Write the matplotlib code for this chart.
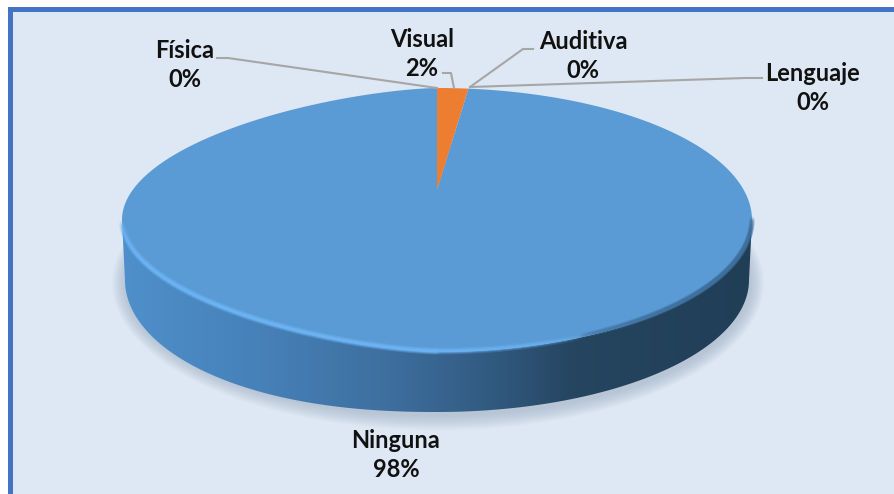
import numpy as np
import matplotlib
matplotlib.use("Agg")
import matplotlib.pyplot as plt
from matplotlib.patches import Polygon, Rectangle, Ellipse
from matplotlib.collections import LineCollection
from matplotlib.colors import LinearSegmentedColormap

# ---- data ----
categories = ["Física", "Visual", "Auditiva", "Lenguaje", "Ninguna"]
values = [0, 2, 0, 0, 98]
slice_colors = ["#A5A5A5", "#ED7D31", "#FFC000", "#4472C4", "#5B9BD5"]
label_xy = [(185, 65), (422, 54), (583, 56), (813, 88), (396, 455)]
leaders = [
    [(217, 58), (228, 58), (437, 88)],
    [(443, 73), (451, 73), (454, 88)],
    [(533, 49), (523, 49), (470, 87)],
    [(762, 78), (745, 78), (470, 87)],
    None,
]

plt.rcParams["font.family"] = ["Lato", "DejaVu Sans"]
W, H = 895, 494
fig = plt.figure(figsize=(W / 100, H / 100), dpi=100, facecolor="white")
ax = fig.add_axes([0, 0, 1, 1])
ax.set_xlim(0, W)
ax.set_ylim(H, 0)
ax.axis("off")

BG = "#DDE8F4"
ax.add_patch(Rectangle((8, 7), W, H, fc="#4472C4", ec="none", zorder=0))
ax.add_patch(Rectangle((13, 12), W, H, fc=BG, ec="none", zorder=0.1))

# pie geometry (perspective view of a disc)
CX, TOP, APEX, BOT, RX = 437.0, 88.0, 190.0, 352.0, 315.0
up, down = APEX - TOP, BOT - APEX
k = (down - up) / (down + up)
b = up * (1 + k)
a = RX * np.sqrt(1 - k ** 2)
LEFT_P = 1.3
LOW_P = 0.9


def project(u, v):
    d = 1 + k * v
    return CX + a * u / d, APEX - b * v / d


def rim(t):
    x, y = project(np.cos(t), np.sin(t))
    dx = np.clip((CX - x) / RX, 0, 1)
    return np.where(x < CX, CX - RX * dx ** LEFT_P, x), y


EY = (TOP + BOT) / 2
ERY = (BOT - TOP) / 2
DEPTH = 60
LRX, LRY = RX - 3, ERY
T0 = np.pi + np.arcsin(k)
T1 = 2 * np.pi - np.arcsin(k)


def lower(t):
    c = np.cos(t)
    c = np.where(c < 0, -np.abs(c) ** LOW_P, c)
    return CX + LRX * c, EY + DEPTH - LRY * np.sin(t)


# soft shadow below the disc
for i in range(14, 0, -1):
    ax.add_patch(Ellipse((CX + 1, EY + DEPTH + 3), 2 * (LRX + i * 1.0), 2 * (LRY + i * 1.1),
                         fc="#5A6E85", ec="none", alpha=0.02, zorder=1))

# side wall with horizontal gradient
xt, yt = rim(np.linspace(T0, T1, 300))
xb, yb = lower(np.linspace(np.pi, 2 * np.pi, 300))
wall = Polygon(np.r_[np.c_[xt, yt], np.c_[xb, yb][::-1]], closed=True, fc="none", ec="none")
ax.add_patch(wall)
cmap = LinearSegmentedColormap.from_list(
    "wall",
    [(0.0, "#4F8FCB"), (0.22, "#4681B8"), (0.42, "#3E6F9F"), (0.58, "#325B82"),
     (0.72, "#254560"), (1.0, "#213E57")],
)
im = ax.imshow(np.linspace(0, 1, 512)[None, :], extent=[CX - RX, CX + RX, BOT + DEPTH + 5, 200],
               cmap=cmap, aspect="auto", zorder=2)
im.set_clip_path(wall)
ax.set_xlim(0, W)
ax.set_ylim(H, 0)

# top face: slices from the values
fracs = np.array(values, float) / sum(values)
start = np.pi / 2
for name, frac, col in zip(categories, fracs, slice_colors):
    if frac <= 0:
        continue
    th = np.linspace(start, start - 2 * np.pi * frac, max(int(720 * frac), 8))
    px, py = rim(th)
    vx, vy = project(0.0, 0.0)
    ax.add_patch(Polygon(np.r_[[[vx, vy]], np.c_[px, py]], closed=True, fc=col, ec="none",
                         lw=0, zorder=4 if col == "#ED7D31" else 3))
    start -= 2 * np.pi * frac


def soft_rim(t0, t1, color, layers, shift):
    t = np.linspace(t0, t1, 200)
    x, y = rim(t)
    pts = np.c_[x, y - shift]
    segs = np.stack([pts[:-1], pts[1:]], axis=1)
    al = np.clip(np.sin((t[:-1] - t0) / (t1 - t0) * np.pi) ** 0.5, 0, 1)
    rgba = np.zeros((len(segs), 4))
    rgba[:, :3] = matplotlib.colors.to_rgb(color)
    for lw, f in layers:
        rgba[:, 3] = al * f
        ax.add_collection(LineCollection(segs.copy(), colors=rgba.copy(), linewidths=lw, zorder=5,
                                         capstyle="round"))


# bevel highlight along the front-left rim, soft dark edge on the right
soft_rim(T0 + 0.02, 1.62 * np.pi, "#6DB4F5", [(5, 0.2), (3, 0.4), (1.6, 0.7)], 1.0)
soft_rim(1.62 * np.pi, T1, "#3F6F9D", [(4, 0.25), (2, 0.4)], 1.5)

# leader lines
for line in leaders:
    if line:
        lx, ly = zip(*line)
        ax.plot(lx, ly, color="#A6A6A6", lw=1.5, zorder=6, solid_joinstyle="round")

# labels
for name, val, (lx, ly) in zip(categories, values, label_xy):
    ax.text(lx, ly, f"{name}\n{val}%", ha="center", va="center", fontsize=17,
            fontweight="bold", color="#111111", linespacing=1.32, zorder=7)

fig.savefig("out.png", dpi=100, facecolor="white")
